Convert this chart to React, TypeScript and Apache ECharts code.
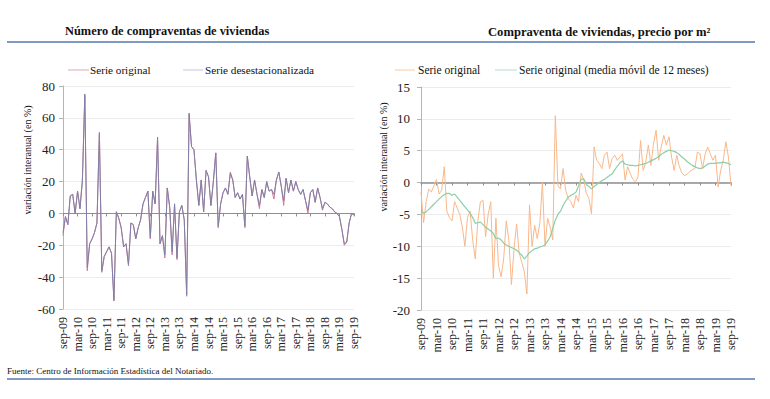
import React, { useEffect, useRef } from "react";
import * as echarts from "echarts";

const MONTH_ABBR = ["ene", "feb", "mar", "abr", "may", "jun", "jul", "ago", "sep", "oct", "nov", "dic"];
const CATEGORIES: string[] = [];
for (let i = 0; i <= 120; i++) {
  const m = (8 + i) % 12;
  const y = 9 + Math.floor((8 + i) / 12);
  CATEGORIES.push(`${MONTH_ABBR[m]}-${String(y).padStart(2, "0")}`);
}

const LEFT_TITLE = "Número de compraventas de viviendas";
const RIGHT_TITLE = "Compraventa de viviendas, precio por m²";
const Y_NAME = "variación interanual (en %)";
const SOURCE = "Fuente: Centro de Información Estadística del Notariado.";

const LEFT_NAMES = ["Serie original", "Serie desestacionalizada"];
const RIGHT_NAMES = ["Serie original", "Serie original (media móvil de 12 meses)"];

// Número de compraventas: serie original
const LEFT_ORIGINAL = [
  -14, -2, -7, 11, 12, 0, 14, 3, 22, 74,
  -36, -19, -16, -12, -6, 51, -37, -27, -24, -21,
  -25, -54, 1, -3, -9, -21, -19, -33, -6, -7,
  -16, -9, -4, 6, 10, 14, -16, 14, 6, 47,
  -19, -14, -28, 16, 4, -26, 6, -29, 1, 5,
  -4, -52, 62, 42, 40, 21, 5, 21, 1, 27,
  23, 5, 20, 38, -9, 6, 13, 16, 12, 26,
  21, 10, 13, 9, 12, -9, 36, 23, 11, 21,
  12, 3, 15, 10, 20, 14, 15, 9, 21, 26,
  17, 5, 22, 13, 21, 14, 20, 15, 12, 15,
  8, 0, 13, 15, 7, 16, 10, 2, 7, 6,
  4, 3, 1, 0, -2, -10, -20, -18, -6, 0,
  -1,
];

// Número de compraventas: serie desestacionalizada
const LEFT_SA = [
  -12, -2, -7, 11, 12, 0, 14, 3, 20, 75,
  -34, -19, -16, -12, -6, 50, -36, -27, -24, -21,
  -25, -55, 1, -3, -9, -21, -19, -32, -6, -7,
  -16, -9, -4, 6, 10, 14, -15, 14, 6, 48,
  -19, -14, -26, 16, 4, -24, 6, -28, 1, 5,
  -4, -51, 63, 42, 40, 21, 5, 21, 1, 27,
  23, 5, 20, 38, -8, 6, 13, 16, 12, 25,
  21, 10, 13, 9, 12, -8, 36, 23, 11, 21,
  12, 5, 15, 10, 20, 14, 15, 12, 21, 26,
  17, 8, 22, 13, 21, 14, 20, 15, 12, 15,
  8, 2, 13, 15, 7, 16, 10, 3, 7, 6,
  4, 3, 1, 0, -2, -10, -19, -18, -6, 0,
  -1,
];

// Precio por m2: serie original
const RIGHT_ORIGINAL = [
  -1.5, -6.3, -3, -1, -1.5, -0.5, 0.5, -1.8, -1.2, 2.5,
  -4.5, -5.5, -6, -3, -4, -5, -7, -10, -5.5, -4.5,
  -9, -12, -6, -3, -2.8, -8.5, -5, -3, -15, -5.6,
  -13, -14.8, -12, -6, -9, -16, -10.5, -6.5, -11, -12.5,
  -14, -17.5, -3.5, -10, -6.7, -8.8, -6.4, 0, -10, -5.6,
  -7, -9, 10.5, -0.5, -1, 2.2, -1.2, -2.5, -3, -4,
  -2, -3, 1.5, 0.4, -1.7, -2.5, -4.9, 5.6, 3.5, 3,
  2.2, 4.3, 4.8, 2.2, 3.8, 4.3, 3.5, 4, 4.5, 0.4,
  2.5, 1.4, 0.5, 0.1, 0.9, 6.6, 1.9, 3.2, 5.9, 2.7,
  6.1, 8.2, 3.5, 5.6, 7.4, 5.9, 7.2, 4, 1.9, 4.3,
  2.5, 1.5, 1.1, 1.3, 1.7, 2.0, 2.2, 4.8, 4.5, 2.2,
  4.5, 5.6, 4.5, 3.5, 4.3, -0.7, 1.9, 3.5, 6.4, 4.0,
  -0.5,
];

// Precio por m2: media móvil de 12 meses
const RIGHT_MA12 = [
  -4.3, -4.8, -4.6, -4.2, -3.8, -3.4, -3.0, -2.6, -2.2, -1.9,
  -1.7, -1.7, -2.0, -1.8, -2.3, -2.8, -3.3, -3.8, -4.3, -4.8,
  -5.5, -6.4, -6.3, -6.2, -6.6, -7.0, -7.3, -7.6, -8.0, -8.8,
  -8.7, -9.0, -9.5, -9.8, -10.0, -10.2, -10.4, -10.6, -11.0, -11.4,
  -12.0, -11.5, -11.0, -10.7, -10.4, -10.3, -10.1, -10.0, -9.8, -9.2,
  -8.5, -7.2, -5.9, -5.0, -4.5, -3.6, -2.9, -2.3, -2.0, -1.8,
  -1.5, -0.5, 0.5, 0.6, -0.3, -0.6, -1.0, -0.6, -0.3, 0.0,
  0.3, 0.5, 0.8, 1.1, 1.4, 2.0, 2.6, 3.1, 3.4, 2.9,
  2.8, 2.7, 2.7, 2.6, 2.7, 2.8, 2.9, 3.0, 3.2, 3.4,
  3.6, 3.8, 4.1, 4.4, 4.7, 4.9, 5.1, 5.0, 4.9, 4.7,
  4.4, 4.0, 3.7, 3.3, 3.0, 2.7, 2.5, 2.3, 2.2, 2.3,
  2.6, 2.9, 3.0, 3.0, 3.0, 3.1, 3.1, 3.2, 3.1, 3.0,
  2.8,
];

const SERIF = "Liberation Serif, Times New Roman, serif";
const RULE_COLOR = "#7f9bc3";

function text(x: number, y: number, str: string, size: number, opts: any = {}) {
  return {
    type: "text",
    x,
    y,
    rotation: opts.rot || 0,
    silent: true,
    style: {
      text: str,
      fontFamily: SERIF,
      fontSize: size,
      fontWeight: opts.bold ? "bold" : "normal",
      fill: opts.color || "#111",
      align: opts.align || "left",
      textAlign: opts.align || "left",
      verticalAlign: "middle",
      textVerticalAlign: "middle",
    },
  };
}

function hline(x1: number, x2: number, y: number, color: string, width: number) {
  return {
    type: "line",
    silent: true,
    shape: { x1, y1: y, x2, y2: y },
    style: { stroke: color, lineWidth: width },
  };
}

function xAxes(gridIndex: number) {
  return [
    {
      gridIndex,
      type: "category",
      data: CATEGORIES,
      boundaryGap: false,
      position: "bottom",
      axisLine: { show: false, onZero: false },
      axisTick: { show: false },
      splitLine: { show: false },
      axisLabel: {
        interval: 5,
        rotate: 90,
        margin: 8,
        fontSize: 12,
        color: "#222",
        fontFamily: SERIF,
      },
    },
    {
      gridIndex,
      type: "category",
      data: CATEGORIES,
      boundaryGap: false,
      position: "top",
      axisLine: { show: true, onZero: true, lineStyle: { color: "#8f8f8f", width: gridIndex === 0 ? 1 : 1.6 } },
      axisTick: { show: true, interval: 5, inside: true, length: 3, lineStyle: { color: "#8f8f8f" } },
      axisLabel: { show: false },
      splitLine: { show: false },
    },
  ];
}

function yAxis(gridIndex: number, min: number, max: number, interval: number, margin: number) {
  return {
    gridIndex,
    type: "value",
    min,
    max,
    interval,
    axisLine: { show: true, lineStyle: { color: "#b5b5b5" } },
    axisTick: { show: true, length: 4, lineStyle: { color: "#b5b5b5" } },
    axisLabel: { fontSize: 13, color: "#222", fontFamily: SERIF, margin },
    splitLine: { show: true, lineStyle: { color: "#ececec" } },
  };
}

export default function App() {
  const ref = useRef<HTMLDivElement>(null);

  useEffect(() => {
    if (!ref.current) return;
    const chart = echarts.init(ref.current, undefined, { renderer: "svg" });
    const option: any = {
      animation: false,
      backgroundColor: "#ffffff",
      textStyle: { fontFamily: SERIF },
      grid: [
        { left: 63, top: 86, width: 291, height: 223 },
        { left: 421, top: 87, width: 310, height: 223 },
      ],
      xAxis: [...xAxes(0), ...xAxes(1)],
      yAxis: [yAxis(0, -60, 80, 20, 8), yAxis(1, -20, 15, 5, 11)],
      series: [
        {
          name: LEFT_NAMES[0],
          type: "line",
          xAxisIndex: 0,
          yAxisIndex: 0,
          data: LEFT_ORIGINAL,
          showSymbol: false,
          silent: true,
          lineStyle: { color: "#d07a91", width: 1 },
          itemStyle: { color: "#d07a91" },
        },
        {
          name: LEFT_NAMES[1],
          type: "line",
          xAxisIndex: 0,
          yAxisIndex: 0,
          data: LEFT_SA,
          showSymbol: false,
          silent: true,
          lineStyle: { color: "#7f81a8", width: 1 },
          itemStyle: { color: "#7f81a8" },
        },
        {
          name: RIGHT_NAMES[0],
          type: "line",
          xAxisIndex: 2,
          yAxisIndex: 1,
          data: RIGHT_ORIGINAL,
          showSymbol: false,
          silent: true,
          lineStyle: { color: "#f8b88a", width: 1 },
          itemStyle: { color: "#f8b88a" },
        },
        {
          name: RIGHT_NAMES[1],
          type: "line",
          xAxisIndex: 2,
          yAxisIndex: 1,
          data: RIGHT_MA12,
          showSymbol: false,
          silent: true,
          lineStyle: { color: "#8ccfa6", width: 1.2 },
          itemStyle: { color: "#8ccfa6" },
        },
      ],
      graphic: [
        text(65, 31, LEFT_TITLE, 12.4, { bold: true }),
        text(488, 32, RIGHT_TITLE, 12.6, { bold: true }),
        hline(7, 755, 42, RULE_COLOR, 2),
        hline(7, 755, 379, RULE_COLOR, 2),
        text(7, 371, SOURCE, 9),
        // left legend
        hline(68, 89, 70, "#d9a9b4", 1),
        text(90, 70, LEFT_NAMES[0], 11.2),
        hline(183, 203, 70, "#c5c5dd", 1),
        text(205, 70, LEFT_NAMES[1], 11.2),
        // right legend
        hline(395, 415, 70, "#f8c9a4", 1),
        text(418, 70, RIGHT_NAMES[0], 11.5),
        hline(495, 517, 70, "#b5dcc6", 1),
        text(519, 70, RIGHT_NAMES[1], 11.5),
        // y axis names
        text(27, 160, Y_NAME, 10, { rot: Math.PI / 2, align: "center" }),
        text(383, 157, Y_NAME, 10, { rot: Math.PI / 2, align: "center" }),
      ],
    };
    chart.setOption(option);
    return () => chart.dispose();
  }, []);

  return (
    <div
      ref={ref}
      style={{ position: "fixed", left: 0, top: 0, width: 770, height: 399, background: "#fff" }}
    />
  );
}
